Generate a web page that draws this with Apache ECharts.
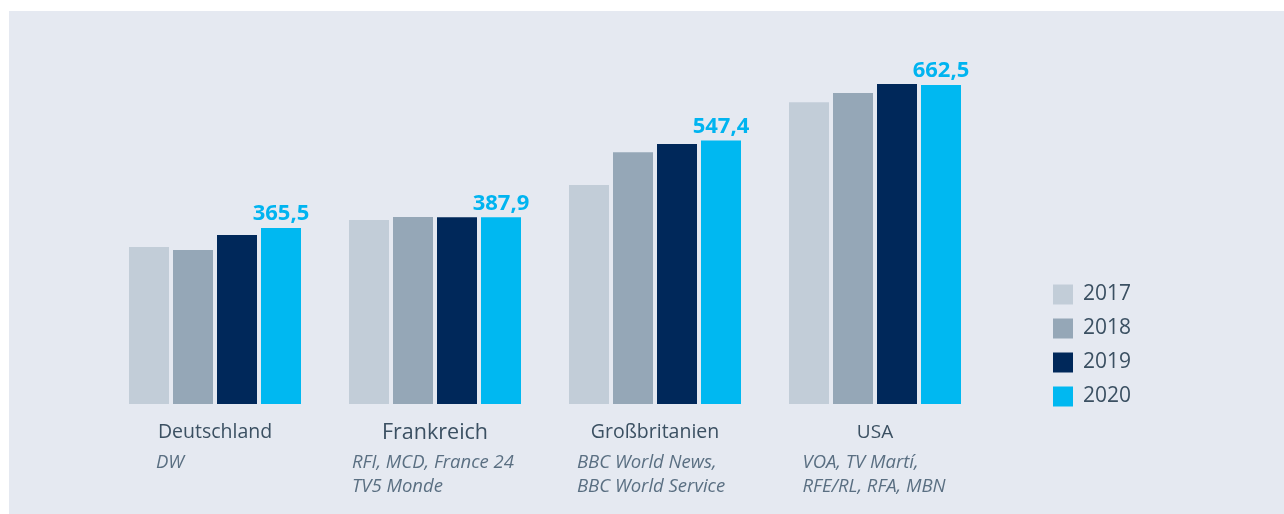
<!DOCTYPE html>
<html>
<head>
<meta charset="utf-8">
<script src="https://cdn.jsdelivr.net/npm/echarts@6/dist/echarts.min.js"></script>
<style>
  html, body { margin: 0; padding: 0; background: #fff; }
  #chart { width: 1284px; height: 514px; }
</style>
</head>
<body>
<div id="chart"></div>
<script>
// Budgets (Mio. Euro) of international broadcasters
const countries = ['Deutschland', 'Frankreich', 'Großbritanien', 'USA'];
const broadcasters = [
  ['DW'],
  ['RFI, MCD, France 24', 'TV5 Monde'],
  ['BBC World News,', 'BBC World Service'],
  ['VOA, TV Martí,', 'RFE/RL, RFA, MBN']
];
const years = ['2017', '2018', '2019', '2020'];
const values2017 = [326, 382, 455, 627];
const values2018 = [320, 388.4, 523, 646];
const values2019 = [351, 388, 540, 664.5];
const values2020 = [365.5, 387.9, 547.4, 662.5];
const colors = ['#c2cdd8', '#95a7b7', '#00285a', '#00b8f1'];
const nameSizes = [19.5, 21.5, 19.5, 19];
const subWidths = [118, 166, 156, 145];

const chart = echarts.init(document.getElementById('chart'));

const rich = {};
countries.forEach((c, i) => {
  rich['name' + i] = {
    fontFamily: 'Open Sans', fontSize: nameSizes[i], color: '#3b5062',
    lineHeight: 30, padding: [0, 0, 7, 0]
  };
  rich['sub' + i] = {
    fontFamily: 'Open Sans', fontStyle: 'italic', fontSize: 18.5, color: '#5a6f82',
    lineHeight: 24, width: subWidths[i], align: 'left'
  };
});

const seriesData = [values2017, values2018, values2019, values2020];
const series = seriesData.map((vals, i) => ({
  name: years[i],
  type: 'bar',
  data: vals,
  barWidth: 40,
  barGap: '10%',
  itemStyle: { color: colors[i] },
  label: i === 3 ? {
    show: true,
    position: 'top',
    distance: 3,
    fontFamily: 'Open Sans',
    fontWeight: 'bold',
    fontSize: 22,
    color: '#00b4f0',
    formatter: p => String(p.value).replace('.', ',')
  } : { show: false }
}));

chart.setOption({
  backgroundColor: '#ffffff',
  animation: false,
  graphic: [{
    type: 'rect',
    z: -10,
    silent: true,
    shape: { x: 9, y: 11, width: 1284, height: 514 },
    style: { fill: '#e5e9f1' }
  }],
  legend: {
    orient: 'vertical',
    left: 1053,
    top: 284,
    padding: 0,
    icon: 'rect',
    itemWidth: 20,
    itemHeight: 20,
    itemGap: 13,
    textStyle: { fontFamily: 'Open Sans', fontSize: 21, color: '#3b5062', padding: [2, 0, 0, 5] },
    data: years
  },
  grid: { left: 105, width: 880, top: 67, bottom: 110 },
  xAxis: {
    type: 'category',
    data: countries,
    axisLine: { show: false },
    axisTick: { show: false },
    axisLabel: {
      margin: 17,
      interval: 0,
      formatter: (v, idx) => {
        const lines = ['{name' + idx + '|' + v + '}'];
        broadcasters[idx].forEach(l => lines.push('{sub' + idx + '|' + l + '}'));
        return lines.join('\n');
      },
      rich: rich
    }
  },
  yAxis: {
    type: 'value',
    min: 0,
    max: 700,
    show: false,
    splitLine: { show: false }
  },
  series: series
});
</script>
</body>
</html>
